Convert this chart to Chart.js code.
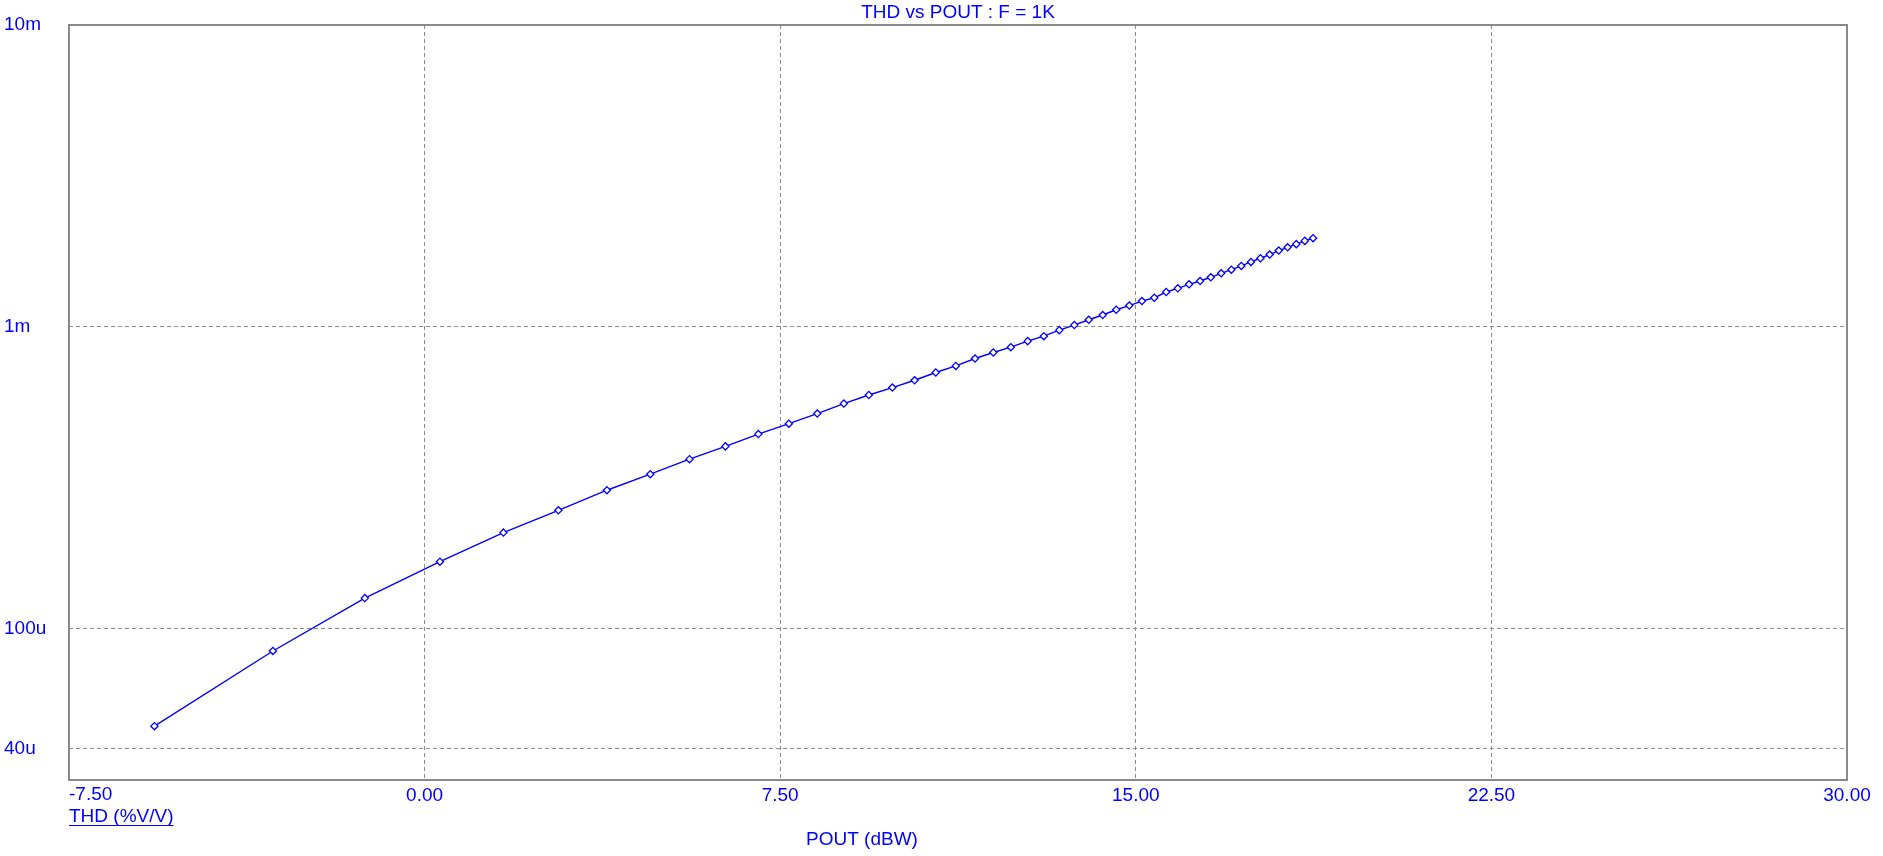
<!DOCTYPE html>
<html>
<head>
<meta charset="utf-8">
<title>THD vs POUT</title>
<script src="https://cdn.jsdelivr.net/npm/chart.js@4.4.1/dist/chart.umd.min.js"></script>
<style>
  body { margin: 0; background: #ffffff; }
  #wrap { width: 1883px; height: 856px; }
</style>
</head>
<body>
<div id="wrap"><canvas id="myChart" width="1883" height="856"></canvas></div>
<script>
// sweep points (POUT in dBW, THD in %V/V)
var pout = [
    -5.698, -3.199, -1.261, 0.323, 1.662, 2.822, 3.845, 4.760, 5.588, 6.344,
    7.039, 7.683, 8.282, 8.842, 9.369, 9.866, 10.335, 10.781, 11.204, 11.609,
    11.995, 12.364, 12.719, 13.060, 13.387, 13.703, 14.008, 14.302, 14.587, 14.863,
    15.130, 15.390, 15.641, 15.886, 16.124, 16.356, 16.581, 16.801, 17.016, 17.225,
    17.429, 17.629, 17.824, 18.015, 18.202, 18.385, 18.564, 18.739
];
var thd = [
    4.75e-5, 8.43e-5, 1.262e-4, 1.666e-4, 2.08e-4, 2.466e-4, 2.874e-4, 3.248e-4, 3.643e-4, 4.016e-4,
    4.41e-4, 4.775e-4, 5.158e-4, 5.566e-4, 5.943e-4, 6.29e-4, 6.65e-4, 7.056e-4, 7.42e-4, 7.85e-4,
    8.22e-4, 8.56e-4, 8.965e-4, 9.31e-4, 9.75e-4, 1.013e-3, 1.055e-3, 1.094e-3, 1.139e-3, 1.176e-3,
    1.217e-3, 1.248e-3, 1.304e-3, 1.341e-3, 1.383e-3, 1.418e-3, 1.459e-3, 1.504e-3, 1.546e-3, 1.591e-3,
    1.640e-3, 1.687e-3, 1.735e-3, 1.789e-3, 1.834e-3, 1.879e-3, 1.926e-3, 1.966e-3
];

var xTickValues = [-7.5, 0, 7.5, 15, 22.5, 30];
var xTickLabels = ["-7.50", "0.00", "7.50", "15.00", "22.50", "30.00"];
var yTickValues = [4e-5, 1e-4, 1e-3, 1e-2];
var yTickLabels = ["40u", "100u", "1m", "10m"];

var titleText = "THD vs POUT : F = 1K";
var yAxisText = "THD (%V/V)";
var xAxisText = "POUT (dBW)";

var BLUE = "#0000ff";
var GRID = "#8c8c8c";
var FONT = "'Liberation Sans', Arial, sans-serif";

var points = pout.map(function (p, i) {
    return { x: p, y: thd[i] };
});

// frame, title and the two axis captions
var textPlugin = {
    id: 'textPlugin',
    afterDraw: function (chart) {
        var c = chart.ctx;
        var area = chart.chartArea;
        var xs = chart.scales.x;
        c.save();
        c.strokeStyle = "#8a8a8a";
        c.lineWidth = 2;
        c.strokeRect(area.left, area.top, area.right - area.left, area.bottom - area.top);

        c.fillStyle = BLUE;
        c.font = "19px " + FONT;
        c.textBaseline = "alphabetic";

        c.textAlign = "center";
        c.fillText(titleText, (area.left + area.right) / 2, 18);

        // first x label sits left-aligned on the frame
        c.textAlign = "left";
        c.fillText(xTickLabels[0], xs.getPixelForValue(xTickValues[0]), 800);

        c.fillText(yAxisText, area.left, 822);
        var w = c.measureText(yAxisText).width;
        c.fillRect(area.left, 825, w, 1);

        c.textAlign = "center";
        c.fillText(xAxisText, (area.left + area.right) / 2 - 96, 845);
        c.restore();
    }
};

var ctx = document.getElementById("myChart").getContext('2d');
var thdChart = new Chart(ctx, {
    type: 'line',
    data: {
        datasets: [{
            label: 'THD',
            data: points,
            borderColor: BLUE,
            borderWidth: 1.4,
            backgroundColor: '#ffffff',
            pointStyle: 'rectRot',
            pointRadius: 3.6,
            pointBorderWidth: 1.3,
            pointBorderColor: BLUE,
            pointBackgroundColor: '#ffffff',
            tension: 0,
            fill: false
        }]
    },
    options: {
        responsive: false,
        devicePixelRatio: 1,
        animation: false,
        events: [],
        layout: { padding: { top: 25, right: 36, bottom: 0, left: 4 } },
        plugins: {
            legend: { display: false },
            title: { display: false },
            tooltip: { enabled: false }
        },
        scales: {
            x: {
                type: 'linear',
                min: -7.5,
                max: 30,
                afterBuildTicks: function (scale) {
                    scale.ticks = xTickValues.map(function (v) { return { value: v }; });
                },
                afterFit: function (scale) { scale.height = 76; },
                grid: { color: GRID, lineWidth: 1, drawTicks: false },
                border: { display: false, dash: [4, 3] },
                ticks: {
                    autoSkip: false,
                    maxRotation: 0,
                    padding: 4,
                    color: BLUE,
                    font: { family: FONT, size: 19 },
                    callback: function (value, index) {
                        return index === 0 ? '' : xTickLabels[index];
                    }
                }
            },
            y: {
                type: 'logarithmic',
                min: 3.15e-5,
                max: 1e-2,
                afterBuildTicks: function (scale) {
                    scale.ticks = yTickValues.map(function (v) { return { value: v }; });
                },
                afterFit: function (scale) { scale.width = 65; },
                grid: { color: GRID, lineWidth: 1, drawTicks: false },
                border: { display: false, dash: [4, 3] },
                ticks: {
                    autoSkip: false,
                    crossAlign: 'far',
                    color: BLUE,
                    font: { family: FONT, size: 19 },
                    callback: function (value, index) {
                        return yTickLabels[index];
                    }
                }
            }
        }
    },
    plugins: [textPlugin]
});
</script>
</body>
</html>
